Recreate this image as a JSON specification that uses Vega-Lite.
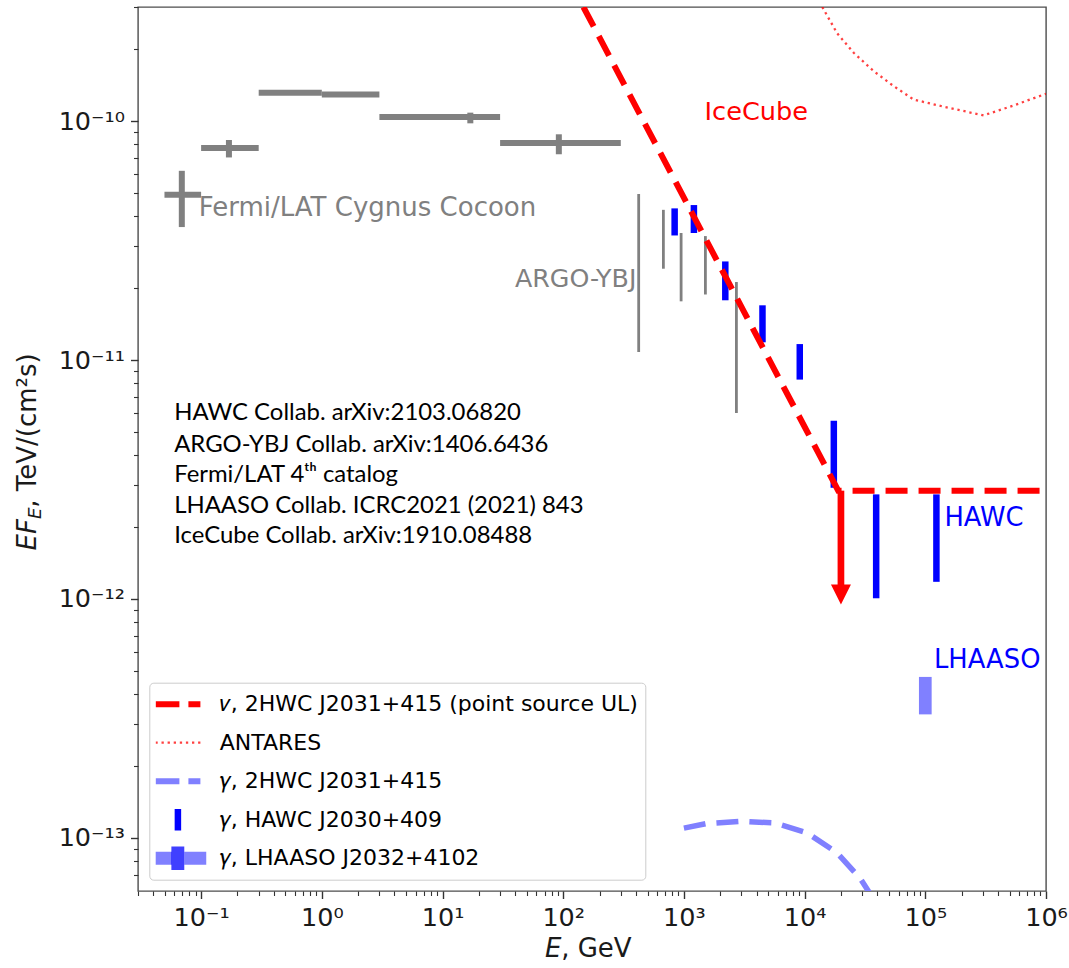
{
  "$schema": "https://vega.github.io/schema/vega-lite/v6.json",
  "width": 908,
  "height": 884,
  "autosize": {"type": "none"},
  "padding": {"left": 138, "top": 7, "right": 23, "bottom": 77},
  "background": "white",
  "config": {
    "view": {"stroke": "#4d4d4d", "strokeWidth": 1.4},
    "axis": {"grid": false, "domain": false, "tickColor": "#333333", "labelColor": "#1a1a1a", "labelFont": "DejaVu Sans", "labelFontSize": 25.5},
    "text": {"font": "DejaVu Sans"}
  },
  "datasets": {
    "fermi": [
      {"lo": 0.0497, "hi": 0.1, "E": 0.0692, "F": 4.92e-11, "Flo": 3.6e-11, "Fhi": 6.19e-11},
      {"lo": 0.1, "hi": 0.3, "E": 0.17, "F": 7.72e-11, "Flo": 7.04e-11, "Fhi": 8.33e-11},
      {"lo": 0.3, "hi": 1.0, "F": 1.312e-10},
      {"lo": 1.0, "hi": 3.0, "F": 1.29e-10},
      {"lo": 3.0, "hi": 30, "E": 17, "F": 1.04e-10, "Flo": 0.978e-10, "Fhi": 1.084e-10},
      {"lo": 30, "hi": 300, "E": 92, "F": 8.1e-11, "Flo": 7.26e-11, "Fhi": 8.8e-11}
    ],
    "argo": [
      {"E": 422, "Flo": 1.08e-11, "Fhi": 4.95e-11},
      {"E": 676, "Flo": 2.41e-11, "Fhi": 4.25e-11},
      {"E": 948, "Flo": 1.76e-11, "Fhi": 3.40e-11},
      {"E": 1507, "Flo": 1.88e-11, "Fhi": 3.30e-11},
      {"E": 2723, "Flo": 6.0e-12, "Fhi": 2.12e-11}
    ],
    "hawc": [
      {"series": "hawc", "E": 838, "Flo": 3.32e-11, "Fhi": 4.31e-11},
      {"series": "hawc", "E": 1210, "Flo": 3.40e-11, "Fhi": 4.45e-11},
      {"series": "hawc", "E": 2203, "Flo": 1.778e-11, "Fhi": 2.585e-11},
      {"series": "hawc", "E": 4477, "Flo": 1.186e-11, "Fhi": 1.694e-11},
      {"series": "hawc", "E": 9120, "Flo": 8.28e-12, "Fhi": 1.166e-11},
      {"series": "hawc", "E": 17460, "Flo": 2.92e-12, "Fhi": 5.57e-12},
      {"series": "hawc", "E": 39170, "Flo": 1.007e-12, "Fhi": 2.74e-12},
      {"series": "hawc", "E": 123600, "Flo": 1.18e-12, "Fhi": 2.74e-12}
    ],
    "lhaaso": [
      {"series": "lhaaso", "E": 100000, "Flo": 3.29e-13, "Fhi": 4.72e-13}
    ],
    "curves": [
      {"series": "nu", "E": 147, "F": 3.0e-10},
      {"series": "nu", "E": 19000, "F": 2.84e-12},
      {"series": "nu", "E": 1000000, "F": 2.84e-12},
      {"series": "antares", "E": 14000, "F": 3.0e-10},
      {"series": "antares", "E": 18600, "F": 2.33e-10},
      {"series": "antares", "E": 25500, "F": 1.93e-10},
      {"series": "antares", "E": 37400, "F": 1.616e-10},
      {"series": "antares", "E": 54700, "F": 1.40e-10},
      {"series": "antares", "E": 80000, "F": 1.23e-10},
      {"series": "antares", "E": 142000, "F": 1.148e-10},
      {"series": "antares", "E": 304000, "F": 1.056e-10},
      {"series": "antares", "E": 540000, "F": 1.162e-10},
      {"series": "antares", "E": 1000000, "F": 1.30e-10},
      {"series": "g2hwc", "E": 1000, "F": 1.10e-13},
      {"series": "g2hwc", "E": 1513, "F": 1.148e-13},
      {"series": "g2hwc", "E": 2944, "F": 1.175e-13},
      {"series": "g2hwc", "E": 5740, "F": 1.155e-13},
      {"series": "g2hwc", "E": 10500, "F": 1.05e-13},
      {"series": "g2hwc", "E": 18600, "F": 8.66e-14},
      {"series": "g2hwc", "E": 29000, "F": 6.75e-14},
      {"series": "g2hwc", "E": 36000, "F": 5.7e-14}
    ],
    "arrow": [
      {"E": 20000, "Ftop": 2.84e-12, "Fbase": 1.12e-12, "Ftip": 9.48e-13}
    ],
    "notes": [
      {"grp": "fermi", "txt": "Fermi/LAT Cygnus Cocoon", "E": 0.0955, "F": 4.02e-11},
      {"grp": "argo", "txt": "ARGO-YBJ", "E": 404, "F": 2.02e-11},
      {"grp": "icecube", "txt": "IceCube", "E": 1483, "F": 1.01e-10},
      {"grp": "blue", "txt": "HAWC", "E": 144000, "F": 2.02e-12},
      {"grp": "blue", "txt": "LHAASO", "E": 118000, "F": 5.16e-13},
      {"grp": "refs", "txt": "HAWC Collab. arXiv:2103.06820", "E": 0.0598, "F": 5.59e-12},
      {"grp": "refs", "txt": "ARGO-YBJ Collab. arXiv:1406.6436", "E": 0.0598, "F": 4.14e-12},
      {"grp": "refs", "txt": "Fermi/LAT 4ᵗʰ catalog", "E": 0.0598, "F": 3.08e-12},
      {"grp": "refs", "txt": "LHAASO Collab. ICRC2021 (2021) 843", "E": 0.0598, "F": 2.30e-12},
      {"grp": "refs", "txt": "IceCube Collab. arXiv:1910.08488", "E": 0.0598, "F": 1.71e-12},
      {"grp": "xtitleI", "txt": "E", "E": 70.5, "F": 3.18e-14},
      {"grp": "xtitleR", "txt": ", GeV", "E": 96.2, "F": 3.18e-14},
      {"grp": "ytitleI", "txt": "EF", "E": 0.0043, "F": 1.596e-12},
      {"grp": "ytitleS", "txt": "E", "E": 0.00474, "F": 2.16e-12},
      {"grp": "ytitleR", "txt": ", TeV/(cm²s)", "E": 0.0043, "F": 2.41e-12}
    ]
  },
  "resolve": {"axis": {"x": "independent", "y": "independent"}},
  "layer": [
    {
      "data": {"name": "fermi"},
      "mark": {"type": "rule", "strokeWidth": 6, "color": "#808080"},
      "encoding": {
        "x": {"field": "lo", "type": "quantitative", "scale": {"type": "log", "domain": [0.03, 1000000], "nice": false},
          "axis": {"orient": "bottom", "title": null, "values": [0.1, 1, 10, 100, 1000, 10000, 100000, 1000000], "tickSize": 7.5, "tickWidth": 1.4, "labelPadding": 7, "labelFlush": false, "labelOverlap": false,
            "labelExpr": "datum.value < 0.5 ? '10⁻¹' : datum.value < 5 ? '10⁰' : datum.value < 50 ? '10¹' : datum.value < 500 ? '10²' : datum.value < 5000 ? '10³' : datum.value < 50000 ? '10⁴' : datum.value < 500000 ? '10⁵' : '10⁶'"}},
        "x2": {"field": "hi"},
        "y": {"field": "F", "type": "quantitative", "scale": {"type": "log", "domain": [6e-14, 3e-10], "nice": false},
          "axis": {"orient": "left", "title": null, "values": [1e-13, 1e-12, 1e-11, 1e-10], "tickSize": 7.5, "tickWidth": 1.4, "labelPadding": 6, "labelFlush": false, "labelOverlap": false,
            "labelExpr": "datum.value < 5e-13 ? '10⁻¹³' : datum.value < 5e-12 ? '10⁻¹²' : datum.value < 5e-11 ? '10⁻¹¹' : '10⁻¹⁰'"}}
      }
    },
    {
      "data": {"name": "fermi"},
      "transform": [{"filter": "isValid(datum.Flo)"}],
      "mark": {"type": "rule", "strokeWidth": 6, "color": "#808080"},
      "encoding": {
        "x": {"field": "E", "type": "quantitative", "scale": {"type": "log", "domain": [0.03, 1000000], "nice": false}, "axis": null},
        "y": {"field": "Flo", "type": "quantitative", "scale": {"type": "log", "domain": [6e-14, 3e-10], "nice": false}, "axis": null},
        "y2": {"field": "Fhi"}
      }
    },
    {
      "data": {"name": "argo"},
      "mark": {"type": "rule", "strokeWidth": 2.8, "color": "#808080"},
      "encoding": {
        "x": {"field": "E", "type": "quantitative", "scale": {"type": "log", "domain": [0.03, 1000000], "nice": false},
          "axis": {"orient": "bottom", "title": null, "labels": false, "tickSize": 4.5, "tickWidth": 1.1,
            "values": [0.03, 0.04, 0.05, 0.06, 0.07, 0.08, 0.09, 0.2, 0.3, 0.4, 0.5, 0.6, 0.7, 0.8, 0.9, 2, 3, 4, 5, 6, 7, 8, 9, 20, 30, 40, 50, 60, 70, 80, 90, 200, 300, 400, 500, 600, 700, 800, 900, 2000, 3000, 4000, 5000, 6000, 7000, 8000, 9000, 20000, 30000, 40000, 50000, 60000, 70000, 80000, 90000, 200000, 300000, 400000, 500000, 600000, 700000, 800000, 900000]}},
        "y": {"field": "Flo", "type": "quantitative", "scale": {"type": "log", "domain": [6e-14, 3e-10], "nice": false},
          "axis": {"orient": "left", "title": null, "labels": false, "tickSize": 4.5, "tickWidth": 1.1,
            "values": [7e-14, 8e-14, 9e-14, 2e-13, 3e-13, 4e-13, 5e-13, 6e-13, 7e-13, 8e-13, 9e-13, 2e-12, 3e-12, 4e-12, 5e-12, 6e-12, 7e-12, 8e-12, 9e-12, 2e-11, 3e-11, 4e-11, 5e-11, 6e-11, 7e-11, 8e-11, 9e-11, 2e-10, 3e-10]}},
        "y2": {"field": "Fhi"}
      }
    },
    {
      "data": {"name": "hawc"},
      "mark": {"type": "rule", "strokeWidth": 6.5},
      "encoding": {
        "x": {"field": "E", "type": "quantitative", "scale": {"type": "log", "domain": [0.03, 1000000], "nice": false}, "axis": null},
        "y": {"field": "Flo", "type": "quantitative", "scale": {"type": "log", "domain": [6e-14, 3e-10], "nice": false}, "axis": null},
        "y2": {"field": "Fhi"},
        "color": {"field": "series", "type": "nominal",
          "scale": {"domain": ["nu", "antares", "g2hwc", "hawc", "lhaaso"], "range": ["#ff0000", "#ff0000", "#8080ff", "#0000ff", "#8080ff"]},
          "legend": {
            "orient": "none", "legendX": 11.3, "legendY": 675.7, "title": null,
            "padding": 6.4, "fillColor": "white", "strokeColor": "#cccccc", "cornerRadius": 4,
            "symbolSize": 2025, "symbolOffset": 11.2, "clipHeight": 30.2, "labelFont": "DejaVu Sans", "labelFontSize": 22, "labelColor": "black",
            "labelOffset": 30.8, "labelLimit": 0, "rowPadding": 7.5,
            "labelExpr": "datum.value === 'nu' ? '𝜈, 2HWC J2031+415 (point source UL)' : datum.value === 'antares' ? 'ANTARES' : datum.value === 'g2hwc' ? '𝛾, 2HWC J2031+415' : datum.value === 'hawc' ? '𝛾, HAWC J2030+409' : '𝛾, LHAASO J2032+4102'",
            "encode": {
              "legend": {
                "update": {
                  "stroke": {"value": "#cccccc"},
                  "strokeWidth": {"value": 1},
                  "fill": {"value": "white"},
                  "cornerRadius": {"value": 4}
                }
              },
              "symbols": {
                "update": {
                  "shape": {"signal": "datum.value === 'hawc' ? 'M0,-0.48V0.48' : datum.value === 'lhaaso' ? 'M-1.26,-0.29H-0.29V-0.52H0.29V-0.29H1.26V0.29H0.29V0.52H-0.29V0.29H-1.26Z' : 'M-1,0H1'"},
                  "size": {"value": 2025},
                  "stroke": {"signal": "datum.value === 'g2hwc' ? '#8080ff' : datum.value === 'hawc' ? '#0000ff' : datum.value === 'lhaaso' ? 'transparent' : '#ff0000'"},
                  "strokeWidth": {"signal": "datum.value === 'antares' ? 2.3 : datum.value === 'lhaaso' ? 0 : datum.value === 'hawc' ? 6.5 : 6"},
                  "strokeDash": {"signal": "datum.value === 'antares' ? [2.3, 3.8] : (datum.value === 'nu' || datum.value === 'g2hwc') ? [24, 9] : [1, 0]"},
                  "strokeCap": {"value": "butt"},
                  "fill": {"signal": "datum.value === 'lhaaso' ? {gradient: 'linear', x1: 0, y1: 0, x2: 1, y2: 0, stops: [{offset: 0, color: '#8080ff'}, {offset: 0.385, color: '#8080ff'}, {offset: 0.385, color: '#4040ff'}, {offset: 0.615, color: '#4040ff'}, {offset: 0.615, color: '#8080ff'}, {offset: 1, color: '#8080ff'}]} : 'transparent'"},
                  "opacity": {"signal": "datum.value === 'antares' ? 0.75 : 1"}
                }
              }
            }
          }
        }
      }
    },
    {
      "data": {"name": "lhaaso"},
      "mark": {"type": "rule", "strokeWidth": 12.7},
      "encoding": {
        "x": {"field": "E", "type": "quantitative", "scale": {"type": "log", "domain": [0.03, 1000000], "nice": false}, "axis": null},
        "y": {"field": "Flo", "type": "quantitative", "scale": {"type": "log", "domain": [6e-14, 3e-10], "nice": false}, "axis": null},
        "y2": {"field": "Fhi"},
        "color": {"field": "series", "type": "nominal", "scale": {"domain": ["nu", "antares", "g2hwc", "hawc", "lhaaso"], "range": ["#ff0000", "#ff0000", "#8080ff", "#0000ff", "#8080ff"]}}
      }
    },
    {
      "data": {"name": "curves"},
      "transform": [{"filter": "datum.series === 'g2hwc'"}],
      "mark": {"type": "line", "strokeWidth": 5.5, "strokeDash": [22, 11], "clip": true},
      "encoding": {
        "x": {"field": "E", "type": "quantitative", "scale": {"type": "log", "domain": [0.03, 1000000], "nice": false}, "axis": null},
        "y": {"field": "F", "type": "quantitative", "scale": {"type": "log", "domain": [6e-14, 3e-10], "nice": false}, "axis": null},
        "color": {"field": "series", "type": "nominal", "scale": {"domain": ["nu", "antares", "g2hwc", "hawc", "lhaaso"], "range": ["#ff0000", "#ff0000", "#8080ff", "#0000ff", "#8080ff"]}}
      }
    },
    {
      "data": {"name": "curves"},
      "transform": [{"filter": "datum.series === 'antares'"}],
      "mark": {"type": "line", "strokeWidth": 2.3, "strokeDash": [2.3, 3.8], "opacity": 0.75, "clip": true},
      "encoding": {
        "x": {"field": "E", "type": "quantitative", "scale": {"type": "log", "domain": [0.03, 1000000], "nice": false}, "axis": null},
        "y": {"field": "F", "type": "quantitative", "scale": {"type": "log", "domain": [6e-14, 3e-10], "nice": false}, "axis": null},
        "color": {"field": "series", "type": "nominal", "scale": {"domain": ["nu", "antares", "g2hwc", "hawc", "lhaaso"], "range": ["#ff0000", "#ff0000", "#8080ff", "#0000ff", "#8080ff"]}}
      }
    },
    {
      "data": {"name": "curves"},
      "transform": [{"filter": "datum.series === 'nu'"}],
      "mark": {"type": "line", "strokeWidth": 6, "strokeDash": [22, 11], "clip": true},
      "encoding": {
        "x": {"field": "E", "type": "quantitative", "scale": {"type": "log", "domain": [0.03, 1000000], "nice": false}, "axis": null},
        "y": {"field": "F", "type": "quantitative", "scale": {"type": "log", "domain": [6e-14, 3e-10], "nice": false}, "axis": null},
        "color": {"field": "series", "type": "nominal", "scale": {"domain": ["nu", "antares", "g2hwc", "hawc", "lhaaso"], "range": ["#ff0000", "#ff0000", "#8080ff", "#0000ff", "#8080ff"]}}
      }
    },
    {
      "data": {"name": "arrow"},
      "mark": {"type": "rule", "strokeWidth": 6.7, "color": "#ff0000"},
      "encoding": {
        "x": {"field": "E", "type": "quantitative", "scale": {"type": "log", "domain": [0.03, 1000000], "nice": false}, "axis": null},
        "y": {"field": "Ftop", "type": "quantitative", "scale": {"type": "log", "domain": [6e-14, 3e-10], "nice": false}, "axis": null},
        "y2": {"field": "Fbase"}
      }
    },
    {
      "data": {"name": "arrow"},
      "mark": {"type": "point", "shape": "M-1,-2L1,-2L0,0Z", "filled": true, "size": 400, "color": "#ff0000", "opacity": 1, "strokeWidth": 0},
      "encoding": {
        "x": {"field": "E", "type": "quantitative", "scale": {"type": "log", "domain": [0.03, 1000000], "nice": false}, "axis": null},
        "y": {"field": "Ftip", "type": "quantitative", "scale": {"type": "log", "domain": [6e-14, 3e-10], "nice": false}, "axis": null}
      }
    },
    {
      "data": {"name": "notes"},
      "transform": [{"filter": "datum.grp === 'fermi'"}],
      "mark": {"type": "text", "align": "left", "baseline": "alphabetic", "fontSize": 26, "color": "#808080"},
      "encoding": {
        "x": {"field": "E", "type": "quantitative", "scale": {"type": "log", "domain": [0.03, 1000000], "nice": false}, "axis": null},
        "y": {"field": "F", "type": "quantitative", "scale": {"type": "log", "domain": [6e-14, 3e-10], "nice": false}, "axis": null},
        "text": {"field": "txt"}
      }
    },
    {
      "data": {"name": "notes"},
      "transform": [{"filter": "datum.grp === 'argo'"}],
      "mark": {"type": "text", "align": "right", "baseline": "alphabetic", "fontSize": 25.3, "color": "#808080"},
      "encoding": {
        "x": {"field": "E", "type": "quantitative", "scale": {"type": "log", "domain": [0.03, 1000000], "nice": false}, "axis": null},
        "y": {"field": "F", "type": "quantitative", "scale": {"type": "log", "domain": [6e-14, 3e-10], "nice": false}, "axis": null},
        "text": {"field": "txt"}
      }
    },
    {
      "data": {"name": "notes"},
      "transform": [{"filter": "datum.grp === 'icecube'"}],
      "mark": {"type": "text", "align": "left", "baseline": "alphabetic", "fontSize": 25.6, "color": "#ff0000"},
      "encoding": {
        "x": {"field": "E", "type": "quantitative", "scale": {"type": "log", "domain": [0.03, 1000000], "nice": false}, "axis": null},
        "y": {"field": "F", "type": "quantitative", "scale": {"type": "log", "domain": [6e-14, 3e-10], "nice": false}, "axis": null},
        "text": {"field": "txt"}
      }
    },
    {
      "data": {"name": "notes"},
      "transform": [{"filter": "datum.grp === 'blue'"}],
      "mark": {"type": "text", "align": "left", "baseline": "alphabetic", "fontSize": 25.8, "color": "#0000ff"},
      "encoding": {
        "x": {"field": "E", "type": "quantitative", "scale": {"type": "log", "domain": [0.03, 1000000], "nice": false}, "axis": null},
        "y": {"field": "F", "type": "quantitative", "scale": {"type": "log", "domain": [6e-14, 3e-10], "nice": false}, "axis": null},
        "text": {"field": "txt"}
      }
    },
    {
      "data": {"name": "notes"},
      "transform": [{"filter": "datum.grp === 'refs'"}],
      "mark": {"type": "text", "align": "left", "baseline": "alphabetic", "fontSize": 23.9, "font": "Lato", "color": "black"},
      "encoding": {
        "x": {"field": "E", "type": "quantitative", "scale": {"type": "log", "domain": [0.03, 1000000], "nice": false}, "axis": null},
        "y": {"field": "F", "type": "quantitative", "scale": {"type": "log", "domain": [6e-14, 3e-10], "nice": false}, "axis": null},
        "text": {"field": "txt"}
      }
    },
    {
      "data": {"name": "notes"},
      "transform": [{"filter": "datum.grp === 'xtitleI'"}],
      "mark": {"type": "text", "align": "left", "baseline": "alphabetic", "fontSize": 26, "fontStyle": "italic", "color": "#1a1a1a"},
      "encoding": {
        "x": {"field": "E", "type": "quantitative", "scale": {"type": "log", "domain": [0.03, 1000000], "nice": false}, "axis": null},
        "y": {"field": "F", "type": "quantitative", "scale": {"type": "log", "domain": [6e-14, 3e-10], "nice": false}, "axis": null},
        "text": {"field": "txt"}
      }
    },
    {
      "data": {"name": "notes"},
      "transform": [{"filter": "datum.grp === 'xtitleR'"}],
      "mark": {"type": "text", "align": "left", "baseline": "alphabetic", "fontSize": 26, "color": "#1a1a1a"},
      "encoding": {
        "x": {"field": "E", "type": "quantitative", "scale": {"type": "log", "domain": [0.03, 1000000], "nice": false}, "axis": null},
        "y": {"field": "F", "type": "quantitative", "scale": {"type": "log", "domain": [6e-14, 3e-10], "nice": false}, "axis": null},
        "text": {"field": "txt"}
      }
    },
    {
      "data": {"name": "notes"},
      "transform": [{"filter": "datum.grp === 'ytitleI'"}],
      "mark": {"type": "text", "align": "left", "baseline": "alphabetic", "fontSize": 26, "fontStyle": "italic", "angle": 270, "color": "#1a1a1a"},
      "encoding": {
        "x": {"field": "E", "type": "quantitative", "scale": {"type": "log", "domain": [0.03, 1000000], "nice": false}, "axis": null},
        "y": {"field": "F", "type": "quantitative", "scale": {"type": "log", "domain": [6e-14, 3e-10], "nice": false}, "axis": null},
        "text": {"field": "txt"}
      }
    },
    {
      "data": {"name": "notes"},
      "transform": [{"filter": "datum.grp === 'ytitleS'"}],
      "mark": {"type": "text", "align": "left", "baseline": "alphabetic", "fontSize": 18.2, "fontStyle": "italic", "angle": 270, "color": "#1a1a1a"},
      "encoding": {
        "x": {"field": "E", "type": "quantitative", "scale": {"type": "log", "domain": [0.03, 1000000], "nice": false}, "axis": null},
        "y": {"field": "F", "type": "quantitative", "scale": {"type": "log", "domain": [6e-14, 3e-10], "nice": false}, "axis": null},
        "text": {"field": "txt"}
      }
    },
    {
      "data": {"name": "notes"},
      "transform": [{"filter": "datum.grp === 'ytitleR'"}],
      "mark": {"type": "text", "align": "left", "baseline": "alphabetic", "fontSize": 26, "angle": 270, "color": "#1a1a1a"},
      "encoding": {
        "x": {"field": "E", "type": "quantitative", "scale": {"type": "log", "domain": [0.03, 1000000], "nice": false}, "axis": null},
        "y": {"field": "F", "type": "quantitative", "scale": {"type": "log", "domain": [6e-14, 3e-10], "nice": false}, "axis": null},
        "text": {"field": "txt"}
      }
    }
  ]
}
